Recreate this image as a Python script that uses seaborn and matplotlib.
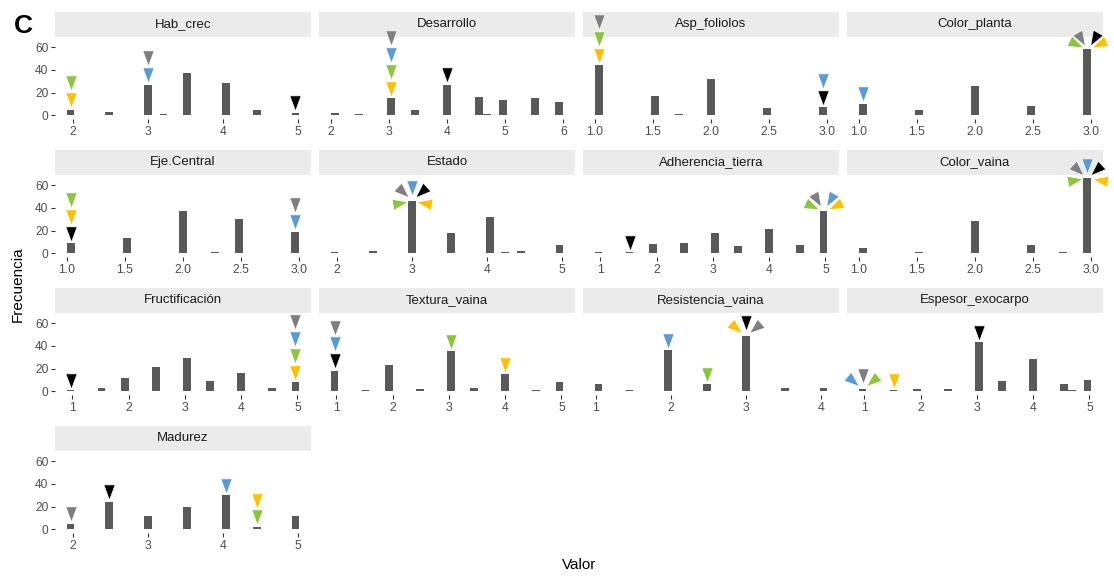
import numpy as np
import pandas as pd
import matplotlib
matplotlib.use("Agg")
import matplotlib.pyplot as plt
import matplotlib.transforms as mtransforms
from matplotlib.markers import MarkerStyle
from matplotlib.path import Path
from matplotlib.patches import Rectangle
import seaborn as sns

# ---------------------------------------------------------------- datos
rasgos = ["Hab_crec", "Desarrollo", "Asp_foliolos", "Color_planta",
          "Eje.Central", "Estado", "Adherencia_tierra", "Color_vaina",
          "Fructificación", "Textura_vaina", "Resistencia_vaina",
          "Espesor_exocarpo", "Madurez"]

hab_crec_valor = [2, 2.5, 3, 3.2, 3.5, 4, 4.5, 5]
hab_crec_n = [5, 3, 27, 1, 37, 28, 5, 2]
hab_crec_ticks = [2, 3, 4, 5]

desarrollo_valor = [2, 2.5, 3, 3.5, 4, 4.5, 4.7, 5, 5.5, 6]
desarrollo_n = [2, 1, 15, 5, 27, 16, 1, 13, 15, 12]
desarrollo_ticks = [2, 3, 4, 5, 6]

asp_foliolos_valor = [1, 1.5, 1.7, 2, 2.5, 3]
asp_foliolos_n = [44, 17, 1, 32, 6, 7]
asp_foliolos_ticks = [1.0, 1.5, 2.0, 2.5, 3.0]

color_planta_valor = [1, 1.5, 2, 2.5, 3]
color_planta_n = [10, 5, 26, 8, 58]
color_planta_ticks = [1.0, 1.5, 2.0, 2.5, 3.0]

eje_central_valor = [1, 1.5, 2, 2.3, 2.5, 3]
eje_central_n = [9, 13, 37, 1, 30, 19]
eje_central_ticks = [1.0, 1.5, 2.0, 2.5, 3.0]

estado_valor = [2, 2.5, 3, 3.5, 4, 4.2, 4.5, 5]
estado_n = [1, 2, 46, 18, 32, 1, 2, 7]
estado_ticks = [2, 3, 4, 5]

adherencia_valor = [1, 1.5, 2, 2.5, 3, 3.5, 4, 4.5, 5]
adherencia_n = [1, 1, 8, 9, 18, 6, 21, 7, 37]
adherencia_ticks = [1, 2, 3, 4, 5]

color_vaina_valor = [1, 1.5, 2, 2.5, 2.75, 3]
color_vaina_n = [5, 1, 28, 7, 1, 66]
color_vaina_ticks = [1.0, 1.5, 2.0, 2.5, 3.0]

fructificacion_valor = [1, 1.5, 2, 2.5, 3, 3.5, 4, 4.5, 5]
fructificacion_n = [1, 3, 12, 21, 29, 9, 16, 3, 8]
fructificacion_ticks = [1, 2, 3, 4, 5]

textura_vaina_valor = [1, 1.5, 2, 2.5, 3, 3.5, 4, 4.5, 5]
textura_vaina_n = [18, 1, 23, 2, 35, 3, 15, 1, 8]
textura_vaina_ticks = [1, 2, 3, 4, 5]

resistencia_vaina_valor = [1, 1.5, 2, 2.5, 3, 3.5, 4]
resistencia_vaina_n = [6, 1, 36, 6, 49, 3, 3]
resistencia_vaina_ticks = [1, 2, 3, 4]

espesor_exocarpo_valor = [1, 1.5, 2, 2.5, 3, 3.5, 4, 4.5, 4.7, 5]
espesor_exocarpo_n = [2, 1, 2, 2, 43, 9, 28, 6, 1, 10]
espesor_exocarpo_ticks = [1, 2, 3, 4, 5]

madurez_valor = [2, 2.5, 3, 3.5, 4, 4.5, 5]
madurez_n = [5, 24, 12, 20, 30, 2, 12]
madurez_ticks = [2, 3, 4, 5]

# accesiones destacadas: (rasgo, valor, accesiones, disposición)
#   "pila": de abajo hacia arriba sobre la barra
#   "abanico": de izquierda a derecha alrededor del extremo de la barra
destacadas = [
    ("Hab_crec", 2, ["amarillo", "verde"], "pila"),
    ("Hab_crec", 3, ["azul", "gris"], "pila"),
    ("Hab_crec", 5, ["negro"], "pila"),
    ("Desarrollo", 3, ["amarillo", "verde", "azul", "gris"], "pila"),
    ("Desarrollo", 4, ["negro"], "pila"),
    ("Asp_foliolos", 1, ["amarillo", "verde", "gris"], "pila"),
    ("Asp_foliolos", 3, ["negro", "azul"], "pila"),
    ("Color_planta", 1, ["azul"], "pila"),
    ("Color_planta", 3, ["verde", "gris", "negro", "amarillo"], "abanico"),
    ("Eje.Central", 1, ["negro", "amarillo", "verde"], "pila"),
    ("Eje.Central", 3, ["azul", "gris"], "pila"),
    ("Estado", 3, ["verde", "gris", "azul", "negro", "amarillo"], "abanico"),
    ("Adherencia_tierra", 1.5, ["negro"], "pila"),
    ("Adherencia_tierra", 5, ["verde", "gris", "azul", "amarillo"], "abanico"),
    ("Color_vaina", 3, ["verde", "gris", "azul", "negro", "amarillo"], "abanico"),
    ("Fructificación", 1, ["negro"], "pila"),
    ("Fructificación", 5, ["amarillo", "verde", "azul", "gris"], "pila"),
    ("Textura_vaina", 1, ["negro", "azul", "gris"], "pila"),
    ("Textura_vaina", 3, ["verde"], "pila"),
    ("Textura_vaina", 4, ["amarillo"], "pila"),
    ("Resistencia_vaina", 2, ["azul"], "pila"),
    ("Resistencia_vaina", 2.5, ["verde"], "pila"),
    ("Resistencia_vaina", 3, ["amarillo", "negro", "gris"], "abanico"),
    ("Espesor_exocarpo", 1, ["azul", "gris", "verde"], "abanico"),
    ("Espesor_exocarpo", 1.5, ["amarillo"], "pila"),
    ("Espesor_exocarpo", 3, ["negro"], "pila"),
    ("Madurez", 2, ["gris"], "pila"),
    ("Madurez", 2.5, ["negro"], "pila"),
    ("Madurez", 4, ["azul"], "pila"),
    ("Madurez", 4.5, ["verde", "amarillo"], "pila"),
]

colores = {"gris": "#7F7F7F", "azul": "#5B9BD5", "verde": "#8CC63F",
           "amarillo": "#FFC000", "negro": "#000000"}

valores = [hab_crec_valor, desarrollo_valor, asp_foliolos_valor, color_planta_valor,
           eje_central_valor, estado_valor, adherencia_valor, color_vaina_valor,
           fructificacion_valor, textura_vaina_valor, resistencia_vaina_valor,
           espesor_exocarpo_valor, madurez_valor]
conteos = [hab_crec_n, desarrollo_n, asp_foliolos_n, color_planta_n,
           eje_central_n, estado_n, adherencia_n, color_vaina_n,
           fructificacion_n, textura_vaina_n, resistencia_vaina_n,
           espesor_exocarpo_n, madurez_n]
marcas_x = [hab_crec_ticks, desarrollo_ticks, asp_foliolos_ticks, color_planta_ticks,
            eje_central_ticks, estado_ticks, adherencia_ticks, color_vaina_ticks,
            fructificacion_ticks, textura_vaina_ticks, resistencia_vaina_ticks,
            espesor_exocarpo_ticks, madurez_ticks]

tabla = pd.DataFrame({
    "rasgo": np.repeat(rasgos, [len(v) for v in valores]),
    "valor": np.concatenate(valores).astype(float),
    "n": np.concatenate(conteos).astype(float),
})


# ------------------------------------------------ histograma de 30 clases
def cortes(x_min, x_max, clases=30):
    ancho = (x_max - x_min) / (clases - 1)
    desplaz = np.floor((x_min - ancho / 2) / ancho + 1e-6)
    origen = ancho / 2 + desplaz * ancho
    n_bordes = int(np.floor((x_max - origen) / ancho + 1 - 1e-6)) + 1
    return origen + ancho * np.arange(n_bordes), ancho


def clase_de(x, bordes, ancho):
    i = int(np.ceil((x - bordes[0]) / ancho - 1e-6)) - 1
    return min(max(i, 0), len(bordes) - 2)


# ---------------------------------------------------------------- estilo
sns.set_theme(style="white")
plt.rcParams["font.family"] = ["Liberation Sans", "DejaVu Sans"]

BARRA = "#595959"
W, H = 1114, 576
col_x = [55, 319, 583, 847]
panel_w = 256
fila_y = [36.5, 174.5, 312.5, 450.5]
panel_h = 82.5
franja_h = 24.5

# triángulo apuntando hacia abajo
tri = Path([(-0.37, 0.5), (0.37, 0.5), (0.0, -0.5), (-0.37, 0.5)],
           [Path.MOVETO, Path.LINETO, Path.LINETO, Path.CLOSEPOLY])
angulos = {1: [90], 2: [120, 60], 3: [140, 90, 40],
           4: [155, 120, 60, 25], 5: [190, 137, 90, 43, -10]}

y_max = tabla["n"].max()

fig = plt.figure(figsize=(W / 100, H / 100), dpi=100)

for k, rasgo in enumerate(rasgos):
    fila, col = divmod(k, 4)
    ax = fig.add_axes([col_x[col] / W, 1 - (fila_y[fila] + panel_h) / H,
                       panel_w / W, panel_h / H])
    sub = tabla[tabla["rasgo"] == rasgo]
    bordes, ancho = cortes(sub["valor"].min(), sub["valor"].max())
    centros = bordes[:-1] + ancho / 2
    cuenta = np.zeros(len(centros))
    for v, n in zip(sub["valor"], sub["n"]):
        cuenta[clase_de(v, bordes, ancho)] += n
    clases = pd.DataFrame({"centro": centros, "cuenta": cuenta})

    sns.histplot(data=clases, x="centro", weights="cuenta",
                 bins=list(bordes), ax=ax,
                 color=BARRA, alpha=1, linewidth=0)

    span = bordes[-1] - bordes[0]
    ax.set_xlim(bordes[0] - 0.05 * span, bordes[-1] + 0.05 * span)
    ax.set_ylim(-0.05 * y_max, 1.05 * y_max)
    ax.set_xlabel("")
    ax.set_ylabel("")
    for s in ax.spines.values():
        s.set_visible(False)
    ax.set_facecolor("white")

    ticks = marcas_x[k]
    decimal = any(float(t) != int(t) for t in ticks)
    ax.set_xticks(ticks)
    ax.set_xticklabels([f"{t:.1f}" if decimal else f"{int(t)}" for t in ticks])
    ax.tick_params(axis="x", bottom=True, length=2.7, width=0.8, pad=2.4,
                   color="#333333", labelcolor="#4D4D4D", labelsize=8.8)
    ax.set_yticks([0, 20, 40, 60])
    if col == 0:
        ax.tick_params(axis="y", left=True, length=2.7, width=0.8, pad=2.2,
                       color="#333333", labelcolor="#4D4D4D", labelsize=8.6)
    else:
        ax.tick_params(axis="y", left=False, labelleft=False)
    ax.grid(False)

    # franja del título
    ax.add_patch(Rectangle((0, 1), 1, franja_h / panel_h, transform=ax.transAxes,
                           facecolor="#EBEBEB", edgecolor="none",
                           clip_on=False, zorder=0.5))
    ax.text(0.5, 1 + franja_h / panel_h / 2, rasgo, transform=ax.transAxes,
            ha="center", va="center", fontsize=9.5, color="#1A1A1A", zorder=3)

    # accesiones destacadas
    for r, v, acc, modo in destacadas:
        if r != rasgo:
            continue
        i = clase_de(v, bordes, ancho)
        x0, y0 = centros[i], cuenta[i]
        for j, a in enumerate(acc):
            if modo == "pila":
                dx, dy, giro = 0.0, 9.5 + 16.8 * j, 0.0
            else:
                th = angulos[len(acc)][j]
                dx = 12.5 * np.cos(np.radians(th))
                dy = 12.5 * np.sin(np.radians(th))
                giro = th - 90
            trans = mtransforms.offset_copy(ax.transData, fig=fig, x=dx, y=dy,
                                            units="dots")
            m = MarkerStyle(tri, transform=mtransforms.Affine2D().rotate_deg(giro))
            ax.plot([x0], [y0], marker=m, markersize=11, color=colores[a],
                    markeredgecolor="white", markeredgewidth=0.5,
                    linestyle="none", transform=trans, clip_on=False, zorder=5)

fig.text(579 / W, 1 - 565 / H, "Valor", ha="center", va="center",
         fontsize=11, color="black")
fig.text(18 / W, 1 - 284 / H, "Frecuencia", ha="center", va="center",
         rotation=90, fontsize=11, color="black")
fig.text(14 / W, 1 - 33 / H, "C", ha="left", va="baseline",
         fontsize=19, fontweight="bold", color="black")

fig.savefig("out.png", dpi=100, facecolor="white")
